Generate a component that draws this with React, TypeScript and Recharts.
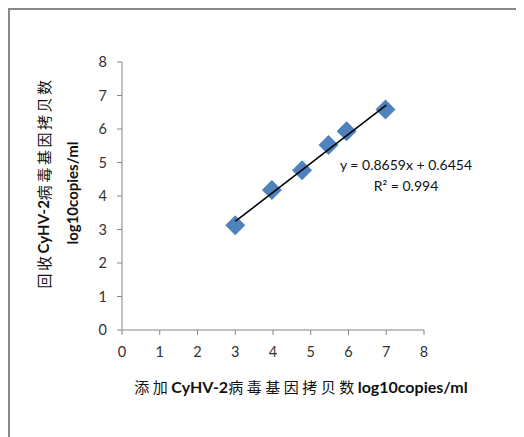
import { ScatterChart, Scatter, XAxis, YAxis } from "recharts";

// added vs recovered copy numbers (log10 copies/ml)
const addedLog = [3, 3.97, 4.77, 5.47, 5.95, 6.98];
const recoveredLog = [3.13, 4.18, 4.77, 5.52, 5.93, 6.58];
const axisTicks = [0, 1, 2, 3, 4, 5, 6, 7, 8];
// trendline endpoints
const trendX = [3, 7];
const trendY = [3.24, 6.71];
const equationText = "y = 0.8659x + 0.6454";
const r2Text = "R² = 0.994";

const points = addedLog.map((x, i) => ({ x, y: recoveredLog[i] }));
const trend = trendX.map((x, i) => ({ x, y: trendY[i] }));

const FONT = "Lato, 'Noto Sans CJK SC', sans-serif";
const CJK = "'Noto Sans CJK SC', sans-serif";
const AXIS = "#868686";

function Diamond(props: any) {
  const { cx, cy } = props;
  const r = 10;
  return (
    <polygon
      points={`${cx},${cy - r} ${cx + r},${cy} ${cx},${cy + r} ${cx - r},${cy}`}
      fill="#4F81BD"
    />
  );
}

function XTitle(props: any) {
  const vb = props.viewBox;
  const cx = vb.x + vb.width / 2 + 28;
  const cy = vb.y + 56;
  return (
    <text x={cx} y={cy} textAnchor="middle" dominantBaseline="central" fill="#111" fontSize={16} fontFamily={FONT}>
      <tspan fontFamily={CJK} fontSize={15} letterSpacing={3.5}>添加</tspan>
      <tspan fontWeight="bold">CyHV-2</tspan>
      <tspan fontFamily={CJK} fontSize={15} letterSpacing={3.5}>病毒基因拷贝数</tspan>
      <tspan fontWeight="bold">log10copies/ml</tspan>
    </text>
  );
}

function YTitle(props: any) {
  const vb = props.viewBox;
  const midY = 188;
  const x1 = vb.x - 39;
  const x2 = vb.x - 10;
  return (
    <g>
      <text
        x={x1}
        y={midY - 13}
        transform={`rotate(-90 ${x1} ${midY - 13})`}
        textAnchor="middle"
        dominantBaseline="central"
        fill="#111"
        fontSize={15}
        fontFamily={FONT}
      >
        <tspan fontFamily={CJK} letterSpacing={2.5}>回收</tspan>
        <tspan fontWeight="bold">CyHV-2</tspan>
        <tspan fontFamily={CJK} letterSpacing={2.5}>病毒基因拷贝数</tspan>
      </text>
      <text
        x={x2}
        y={midY - 3}
        transform={`rotate(-90 ${x2} ${midY - 3})`}
        textAnchor="middle"
        dominantBaseline="central"
        fill="#111"
        fontSize={15}
        fontWeight="bold"
        fontFamily={FONT}
      >
        log10copies/ml
      </text>
    </g>
  );
}

export default function App() {
  return (
    <div style={{ position: "relative", width: 516, height: 429, fontFamily: FONT }}>
      <div
        style={{
          position: "absolute",
          left: 0,
          top: 0,
          width: 516,
          height: 429,
          borderLeft: "2px solid #888",
          borderTop: "2px solid #888",
          boxSizing: "border-box",
        }}
      />
      <ScatterChart width={516} height={429} margin={{ top: 54, right: 100, bottom: 77, left: 74 }}>
        <XAxis
          type="number"
          dataKey="x"
          domain={[0, 8]}
          ticks={axisTicks}
          height={30}
          tickSize={5}
          tickMargin={12}
          stroke={AXIS}
          tick={{ fill: "#333", fontSize: 14.5, fontFamily: FONT }}
          label={{ content: XTitle }}
        />
        <YAxis
          type="number"
          dataKey="y"
          domain={[0, 8]}
          ticks={axisTicks}
          width={40}
          tickSize={5}
          tickMargin={10}
          stroke={AXIS}
          tick={{ fill: "#333", fontSize: 14.5, fontFamily: FONT }}
          label={{ content: YTitle }}
        />
        <Scatter data={points} shape={Diamond} isAnimationActive={false} />
        <Scatter
          data={trend}
          line={{ stroke: "#000", strokeWidth: 1.5 }}
          shape={() => <g />}
          isAnimationActive={false}
        />
      </ScatterChart>
      <div
        style={{
          position: "absolute",
          left: 318,
          top: 146,
          width: 160,
          textAlign: "center",
          fontSize: 14,
          lineHeight: "21px",
          color: "#111",
        }}
      >
        <div>{equationText}</div>
        <div>{r2Text}</div>
      </div>
    </div>
  );
}
